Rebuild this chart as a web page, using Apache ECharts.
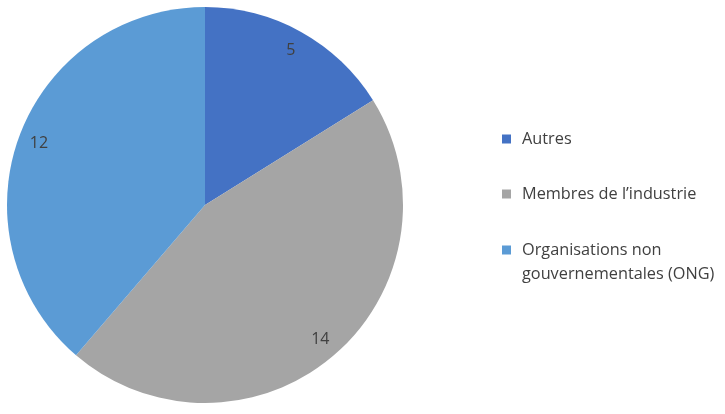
<!DOCTYPE html>
<html>
<head>
<meta charset="utf-8">
<script src="https://cdn.jsdelivr.net/npm/echarts@6/dist/echarts.min.js"></script>
<style>
  html, body { margin: 0; padding: 0; background: #ffffff; }
  #mainChart { width: 725px; height: 414px; }
</style>
</head>
<body>
<div id="mainChart"></div>
<script>
	// données
	var categories = ['Autres', 'Membres de l\u2019industrie', 'Organisations non gouvernementales (ONG)'];
	var legendLabels = ['Autres', 'Membres de l\u2019industrie', '\nOrganisations non\ngouvernementales (ONG)'];
	var values = [5, 14, 12];
	var colors = ['#4472C4', '#A5A5A5', '#5B9BD5'];

	function formatData() {
		var serData = [];
		for (var i = 0; i < categories.length; i++) {
			serData.push({ name: categories[i], value: values[i], itemStyle: { color: colors[i] } });
		}
		return serData;
	}

	function legendBox(names, top) {
		return {
			orient: 'vertical',
			left: 502,
			top: top,
			padding: 0,
			icon: 'rect',
			itemWidth: 9,
			itemHeight: 9,
			itemGap: 31,
			selectedMode: false,
			data: names,
			formatter: function (name) {
				return legendLabels[categories.indexOf(name)];
			},
			textStyle: {
				fontFamily: 'Open Sans',
				fontSize: 16.3,
				color: '#404040',
				lineHeight: 24,
				padding: [0, 0, 0, 6]
			}
		};
	}

	var myChart = echarts.init(document.getElementById('mainChart'));
	var serData = formatData();
	var option = {
		backgroundColor: '#ffffff',
		animation: false,
		textStyle: { fontFamily: 'Open Sans' },
		// deux légendes pour aligner le carré sur la première ligne du libellé long
		legend: [
			legendBox(categories.slice(0, 2), 127),
			legendBox(categories.slice(2), 214)
		],
		series: [{
			name: 'parts',
			type: 'pie',
			center: [205, 205],
			radius: [0, 198],
			startAngle: 90,
			clockwise: true,
			silent: true,
			label: { show: false },
			labelLine: { show: false },
			itemStyle: { borderWidth: 0 },
			data: serData
		}, {
			// anneau invisible pour placer les étiquettes près du bord
			name: 'etiquettes',
			type: 'pie',
			center: [205, 205],
			radius: [150, 198],
			startAngle: 90,
			clockwise: true,
			silent: true,
			itemStyle: { color: 'rgba(0,0,0,0)', borderWidth: 0 },
			label: {
				show: true,
				position: 'inside',
				formatter: '{c}',
				fontFamily: 'Open Sans',
				fontSize: 16,
				color: '#404040'
			},
			labelLine: { show: false },
			data: values.map(function (v, i) { return { name: categories[i], value: v }; })
		}]
	};
	myChart.setOption(option, true);
</script>
</body>
</html>
